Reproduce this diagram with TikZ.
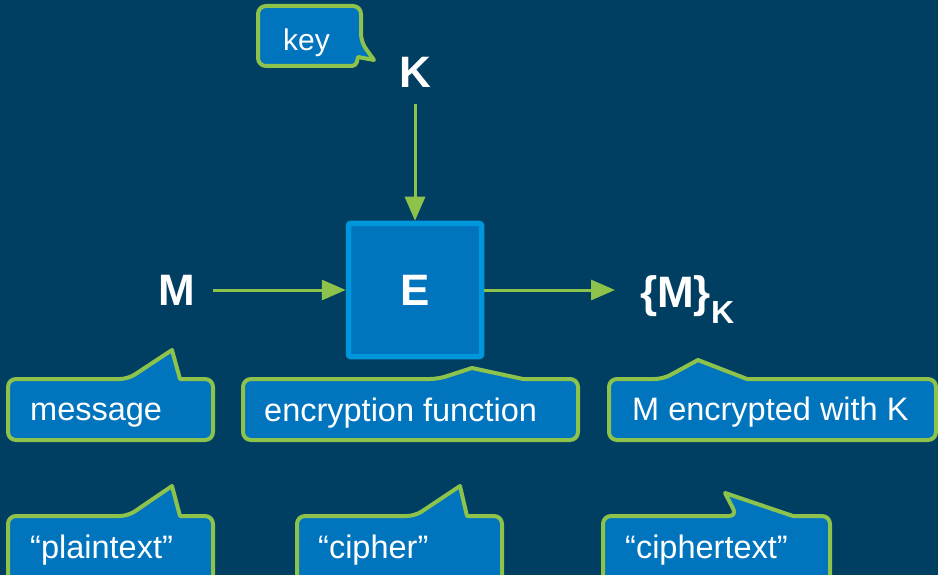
\documentclass[tikz,border=0pt]{standalone}
\usepackage{fontspec}
\setmainfont{Liberation Sans}
\usetikzlibrary{arrows.meta}

\definecolor{bgnavy}{RGB}{0,63,98}
\definecolor{boxblue}{RGB}{0,117,190}
\definecolor{edgeblue}{RGB}{0,150,220}
\definecolor{leafgreen}{RGB}{141,195,74}

\tikzset{
  biglabel/.style={text=white, inner sep=0pt, font=\bfseries\fontsize{44}{44}\selectfont},
  notetext/.style={text=white, inner sep=0pt, anchor=base west, font=\fontsize{32.5}{32.5}\selectfont},
  callout/.style={draw=leafgreen, fill=boxblue, line width=4pt, line join=round},
  arr/.style={draw=leafgreen, line width=3pt, -{Triangle[length=24pt,width=20pt]}},
  funcbox/.style={draw=edgeblue, fill=boxblue, line width=5.5pt, rounded corners=2pt,
    minimum width=133pt, minimum height=133pt, inner sep=0pt, text=white,
    font=\bfseries\fontsize{44}{44}\selectfont}
}

\begin{document}
\begin{tikzpicture}[x=1pt, y=-1pt]
  \useasboundingbox (0,0) rectangle (938,575);
  \fill[bgnavy] (0,0) rectangle (938,575);

  % main labels and the encryption box
  \node[biglabel] (K) at (415,72) {K};
  \node[biglabel] (M) at (177,290) {M};
  \node[funcbox] (E) at (415,290) {E};
  \node[biglabel, anchor=base west] (C) at (640,307)
    {\{M\}\raisebox{-16pt}{\fontsize{32}{32}\selectfont K}};

  % data flow
  \draw[arr, shorten <=17pt] (K.south) -- (E.north);
  \draw[arr, shorten <=17pt] (M.east) -- (E.west);
  \draw[arr, shorten >=25pt] (E.east) -- (E.east -| C.west);

  % callout: key
  \draw[callout] (300,66) [rounded corners=8pt] -- (258,66) -- (258,6) -- (361,6) -- (361,42)
    [sharp corners] -- (374,60) -- (358,57) [rounded corners=4pt] -- (356,66) -- cycle;
  \node[notetext, font=\fontsize{30}{30}\selectfont] (tkey) at (283,51) {key};

  % callouts: first row
  \draw[callout] (110,440) [rounded corners=8pt] -- (8,440) -- (8,379) -- (128,379)
    [sharp corners] -- (172,350) -- (180,379) [rounded corners=8pt] -- (213,379) -- (213,440) -- cycle;
  \node[notetext] (tmsg) at (30,420) {message};

  \draw[callout] (400,440) [rounded corners=8pt] -- (243,440) -- (243,379) -- (438,379)
    [sharp corners] -- (472,368) -- (523,379) [rounded corners=8pt] -- (578,379) -- (578,440) -- cycle;
  \node[notetext] (tfun) at (264,421) {encryption function};

  \draw[callout] (750,440) [rounded corners=8pt] -- (609,440) -- (609,379) -- (663,379)
    [sharp corners] -- (698,360) -- (747,379) [rounded corners=8pt] -- (936,379) -- (936,440) -- cycle;
  \node[notetext] (tenc) at (632,420) {M encrypted with K};

  % callouts: second row
  \draw[callout] (110,590) [rounded corners=8pt] -- (8,590) -- (8,516) -- (128,516)
    [sharp corners] -- (172,486) -- (180,516) [rounded corners=8pt] -- (213,516) -- (213,590) -- cycle;
  \node[notetext] (tplain) at (30,558) {“plaintext”};

  \draw[callout] (400,590) [rounded corners=8pt] -- (297,590) -- (297,516) -- (415,516)
    [sharp corners] -- (460,486) -- (467,516) [rounded corners=8pt] -- (502,516) -- (502,590) -- cycle;
  \node[notetext] (tciph) at (318,558) {“cipher”};

  \draw[callout] (700,590) [rounded corners=8pt] -- (603,590) -- (603,516) -- (737,516)
    [sharp corners] -- (725,493) -- (793,516) [rounded corners=8pt] -- (830,516) -- (830,590) -- cycle;
  \node[notetext] (tctext) at (625,558) {“ciphertext”};
\end{tikzpicture}
\end{document}
